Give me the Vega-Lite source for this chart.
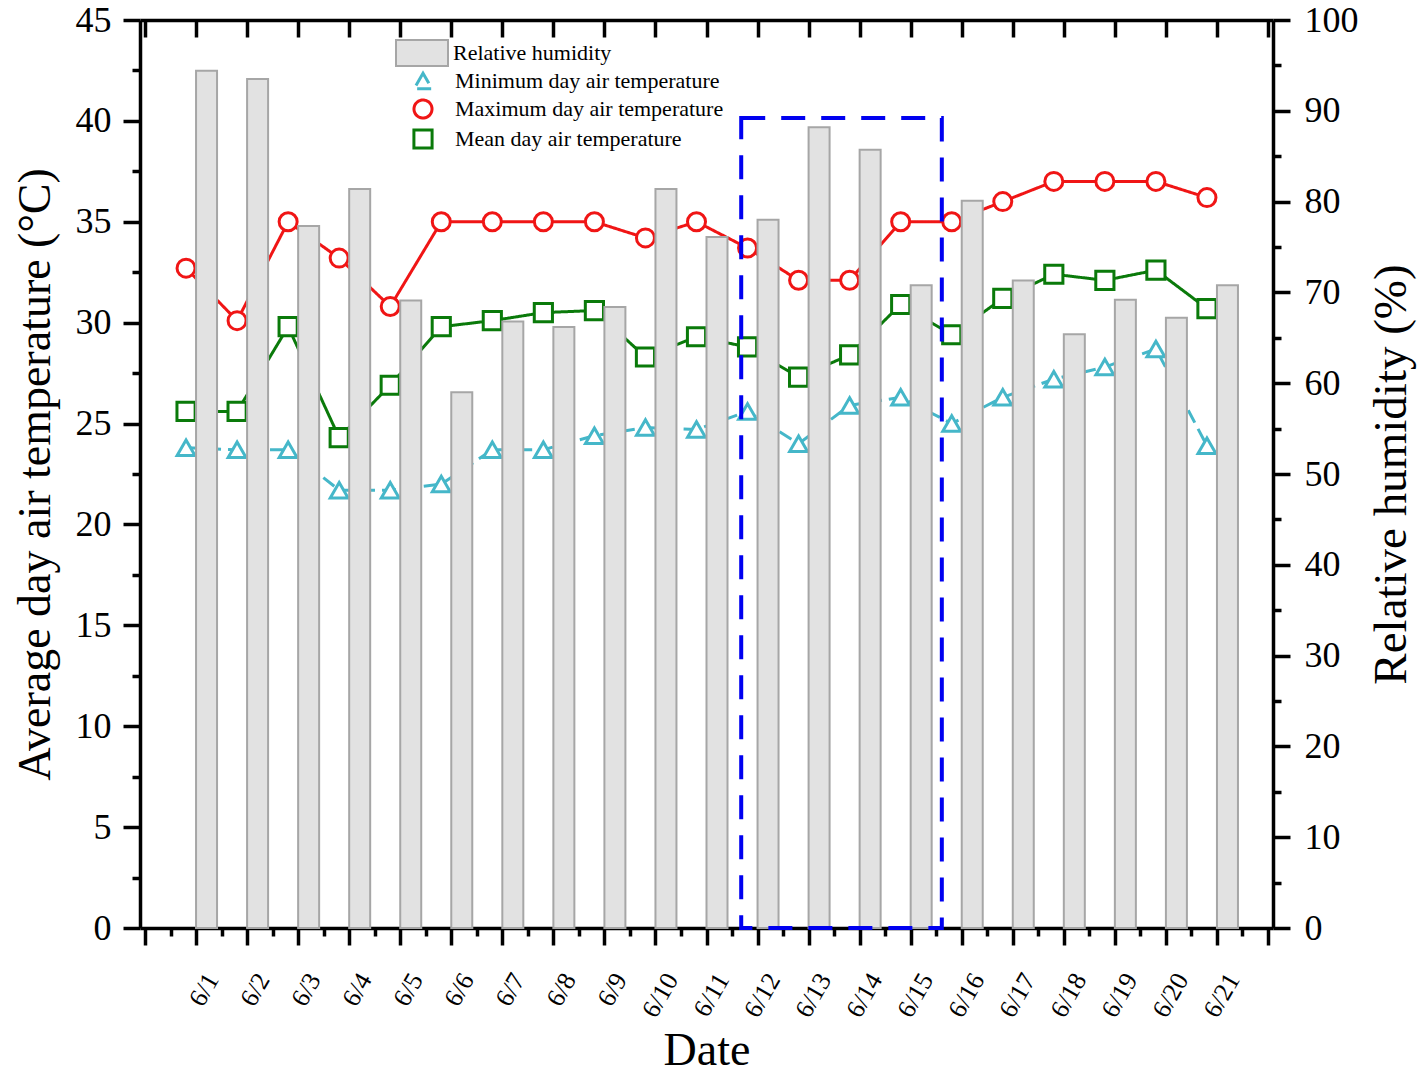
{
  "$schema": "https://vega.github.io/schema/vega-lite/v6.json",
  "width": 1133,
  "height": 908,
  "autosize": {"type": "none"},
  "padding": {"left": 140, "top": 20, "right": 144, "bottom": 148},
  "background": "white",
  "config": {
    "view": {"stroke": null},
    "font": "Liberation Serif",
    "axis": {
      "grid": false,
      "domainColor": "black",
      "domainWidth": 3.5,
      "tickColor": "black",
      "tickWidth": 3.5,
      "labelFont": "Liberation Serif",
      "labelColor": "black",
      "titleFont": "Liberation Serif",
      "titleColor": "black",
      "titleFontWeight": "normal"
    },
    "legend": {
      "labelFont": "Liberation Serif",
      "labelColor": "black",
      "labelFontSize": 22,
      "labelLimit": 500,
      "padding": 0,
      "offset": 0
    }
  },
  "datasets": {
    "bars": [
      {"day": 1, "rh": 94.4}, {"day": 2, "rh": 93.5}, {"day": 3, "rh": 77.3},
      {"day": 4, "rh": 81.4}, {"day": 5, "rh": 69.1}, {"day": 6, "rh": 59.0},
      {"day": 7, "rh": 66.8}, {"day": 8, "rh": 66.2}, {"day": 9, "rh": 68.4},
      {"day": 10, "rh": 81.4}, {"day": 11, "rh": 76.1}, {"day": 12, "rh": 78.0},
      {"day": 13, "rh": 88.2}, {"day": 14, "rh": 85.7}, {"day": 15, "rh": 70.8},
      {"day": 16, "rh": 80.1}, {"day": 17, "rh": 71.3}, {"day": 18, "rh": 65.4},
      {"day": 19, "rh": 69.2}, {"day": 20, "rh": 67.2}, {"day": 21, "rh": 70.8}
    ],
    "temps": [
      {"day": 1, "series": "Minimum day air temperature", "temp": 23.8},
      {"day": 2, "series": "Minimum day air temperature", "temp": 23.7},
      {"day": 3, "series": "Minimum day air temperature", "temp": 23.7},
      {"day": 4, "series": "Minimum day air temperature", "temp": 21.7},
      {"day": 5, "series": "Minimum day air temperature", "temp": 21.7},
      {"day": 6, "series": "Minimum day air temperature", "temp": 22.0},
      {"day": 7, "series": "Minimum day air temperature", "temp": 23.7},
      {"day": 8, "series": "Minimum day air temperature", "temp": 23.7},
      {"day": 9, "series": "Minimum day air temperature", "temp": 24.4},
      {"day": 10, "series": "Minimum day air temperature", "temp": 24.8},
      {"day": 11, "series": "Minimum day air temperature", "temp": 24.7},
      {"day": 12, "series": "Minimum day air temperature", "temp": 25.6},
      {"day": 13, "series": "Minimum day air temperature", "temp": 24.0},
      {"day": 14, "series": "Minimum day air temperature", "temp": 25.9},
      {"day": 15, "series": "Minimum day air temperature", "temp": 26.3},
      {"day": 16, "series": "Minimum day air temperature", "temp": 25.0},
      {"day": 17, "series": "Minimum day air temperature", "temp": 26.3},
      {"day": 18, "series": "Minimum day air temperature", "temp": 27.2},
      {"day": 19, "series": "Minimum day air temperature", "temp": 27.8},
      {"day": 20, "series": "Minimum day air temperature", "temp": 28.7},
      {"day": 21, "series": "Minimum day air temperature", "temp": 23.9},
      {"day": 1, "series": "Maximum day air temperature", "temp": 32.7},
      {"day": 2, "series": "Maximum day air temperature", "temp": 30.1},
      {"day": 3, "series": "Maximum day air temperature", "temp": 35.0},
      {"day": 4, "series": "Maximum day air temperature", "temp": 33.2},
      {"day": 5, "series": "Maximum day air temperature", "temp": 30.8},
      {"day": 6, "series": "Maximum day air temperature", "temp": 35.0},
      {"day": 7, "series": "Maximum day air temperature", "temp": 35.0},
      {"day": 8, "series": "Maximum day air temperature", "temp": 35.0},
      {"day": 9, "series": "Maximum day air temperature", "temp": 35.0},
      {"day": 10, "series": "Maximum day air temperature", "temp": 34.2},
      {"day": 11, "series": "Maximum day air temperature", "temp": 35.0},
      {"day": 12, "series": "Maximum day air temperature", "temp": 33.7},
      {"day": 13, "series": "Maximum day air temperature", "temp": 32.1},
      {"day": 14, "series": "Maximum day air temperature", "temp": 32.1},
      {"day": 15, "series": "Maximum day air temperature", "temp": 35.0},
      {"day": 16, "series": "Maximum day air temperature", "temp": 35.0},
      {"day": 17, "series": "Maximum day air temperature", "temp": 36.0},
      {"day": 18, "series": "Maximum day air temperature", "temp": 37.0},
      {"day": 19, "series": "Maximum day air temperature", "temp": 37.0},
      {"day": 20, "series": "Maximum day air temperature", "temp": 37.0},
      {"day": 21, "series": "Maximum day air temperature", "temp": 36.2},
      {"day": 1, "series": "Mean day air temperature", "temp": 25.6},
      {"day": 2, "series": "Mean day air temperature", "temp": 25.6},
      {"day": 3, "series": "Mean day air temperature", "temp": 29.8},
      {"day": 4, "series": "Mean day air temperature", "temp": 24.3},
      {"day": 5, "series": "Mean day air temperature", "temp": 26.9},
      {"day": 6, "series": "Mean day air temperature", "temp": 29.8},
      {"day": 7, "series": "Mean day air temperature", "temp": 30.1},
      {"day": 8, "series": "Mean day air temperature", "temp": 30.5},
      {"day": 9, "series": "Mean day air temperature", "temp": 30.6},
      {"day": 10, "series": "Mean day air temperature", "temp": 28.3},
      {"day": 11, "series": "Mean day air temperature", "temp": 29.3},
      {"day": 12, "series": "Mean day air temperature", "temp": 28.8},
      {"day": 13, "series": "Mean day air temperature", "temp": 27.3},
      {"day": 14, "series": "Mean day air temperature", "temp": 28.4},
      {"day": 15, "series": "Mean day air temperature", "temp": 30.9},
      {"day": 16, "series": "Mean day air temperature", "temp": 29.4},
      {"day": 17, "series": "Mean day air temperature", "temp": 31.2},
      {"day": 18, "series": "Mean day air temperature", "temp": 32.4},
      {"day": 19, "series": "Mean day air temperature", "temp": 32.1},
      {"day": 20, "series": "Mean day air temperature", "temp": 32.6},
      {"day": 21, "series": "Mean day air temperature", "temp": 30.7}
    ],
    "box": [
      {"start": 11.68, "end": 15.61, "low": 0, "high": 40.14}
    ]
  },
  "layer": [
    {
      "data": {"name": "temps"},
      "layer": [
        {
          "mark": {"type": "line", "strokeWidth": 3, "xOffset": -10},
          "encoding": {
            "x": {
              "field": "day", "type": "quantitative",
              "scale": {"domain": [0, 22], "nice": false, "zero": false},
              "axis": {
                "orient": "top",
                "values": [0,0.5,1,1.5,2,2.5,3,3.5,4,4.5,5,5.5,6,6.5,7,7.5,8,8.5,9,9.5,10,10.5,11,11.5,12,12.5,13,13.5,14,14.5,15,15.5,16,16.5,17,17.5,18,18.5,19,19.5,20,20.5,21,21.5,22],
                "labels": false,
                "title": null,
                "tickSize": {"condition": {"test": "datum.value % 1 === 0", "value": -17}, "value": -8}
              }
            },
            "y": {
              "field": "temp", "type": "quantitative",
              "scale": {"domain": [0, 45], "nice": false, "zero": true},
              "axis": {
                "orient": "left",
                "values": [0,2.5,5,7.5,10,12.5,15,17.5,20,22.5,25,27.5,30,32.5,35,37.5,40,42.5,45],
                "labelExpr": "datum.value % 5 === 0 ? datum.label : ''",
                "tickSize": {"condition": {"test": "datum.value % 5 === 0", "value": 17}, "value": 8},
                "labelFontSize": 36,
                "labelPadding": 12,
                "title": "Average day air temperature (°C)",
                "titleFontSize": 46,
                "titlePadding": 16
              }
            },
            "stroke": {
              "field": "series", "type": "nominal",
              "scale": {
                "domain": ["Minimum day air temperature", "Maximum day air temperature", "Mean day air temperature"],
                "range": ["#45B7C9", "#F01515", "#0A7A0A"]
              },
              "legend": {
                "title": null,
                "orient": "none",
                "legendX": 272,
                "legendY": 50,
                "labelOffset": 21,
                "rowPadding": -2,
                "symbolFillColor": "white",
                "symbolStrokeWidth": 3
              }
            },
            "strokeDash": {
              "field": "series", "type": "nominal",
              "scale": {
                "domain": ["Minimum day air temperature", "Maximum day air temperature", "Mean day air temperature"],
                "range": [[14, 7], [1, 0], [1, 0]]
              }
            }
          }
        },
        {
          "mark": {"type": "point", "filled": true, "fill": "white", "strokeWidth": 3, "opacity": 1, "xOffset": -10},
          "encoding": {
            "x": {"field": "day", "type": "quantitative", "scale": {"domain": [0, 22], "nice": false, "zero": false}},
            "y": {"field": "temp", "type": "quantitative", "title": "Average day air temperature (°C)"},
            "stroke": {
              "field": "series", "type": "nominal",
              "scale": {
                "domain": ["Minimum day air temperature", "Maximum day air temperature", "Mean day air temperature"],
                "range": ["#45B7C9", "#F01515", "#0A7A0A"]
              }
            },
            "shape": {
              "field": "series", "type": "nominal",
              "scale": {
                "domain": ["Minimum day air temperature", "Maximum day air temperature", "Mean day air temperature"],
                "range": ["triangle-up", "circle", "square"]
              }
            },
            "size": {
              "field": "series", "type": "nominal",
              "scale": {
                "domain": ["Minimum day air temperature", "Maximum day air temperature", "Mean day air temperature"],
                "range": [320, 330, 200]
              }
            }
          }
        }
      ]
    },
    {
      "data": {"name": "bars"},
      "mark": {"type": "bar", "width": 21, "xOffset": 10.5, "stroke": "#A6A6A6", "strokeWidth": 2},
      "encoding": {
        "x": {
          "field": "day", "type": "quantitative",
          "scale": {"domain": [0, 22], "nice": false, "zero": false},
          "axis": {
            "orient": "bottom",
            "values": [0,0.5,1,1.5,2,2.5,3,3.5,4,4.5,5,5.5,6,6.5,7,7.5,8,8.5,9,9.5,10,10.5,11,11.5,12,12.5,13,13.5,14,14.5,15,15.5,16,16.5,17,17.5,18,18.5,19,19.5,20,20.5,21,21.5,22],
            "labelExpr": "datum.value >= 1 && datum.value <= 21 && datum.value % 1 === 0 ? '6/' + datum.value : ''",
            "tickSize": {"condition": {"test": "datum.value % 1 === 0", "value": 17}, "value": 8},
            "labelAngle": -60,
            "labelAlign": "right",
            "labelBaseline": "middle",
            "labelFontSize": 26,
            "labelOffset": 16,
            "labelPadding": 30,
            "labelOverlap": false,
            "labelBound": false,
            "title": "Date",
            "titleFontSize": 46,
            "titlePadding": 7
          }
        },
        "y": {
          "field": "rh", "type": "quantitative",
          "scale": {"domain": [0, 100], "nice": false},
          "axis": {
            "orient": "right",
            "values": [0,5,10,15,20,25,30,35,40,45,50,55,60,65,70,75,80,85,90,95,100],
            "labelExpr": "datum.value % 10 === 0 ? datum.label : ''",
            "tickSize": {"condition": {"test": "datum.value % 10 === 0", "value": 17}, "value": 8},
            "labelFontSize": 36,
            "labelPadding": 14,
            "title": "Relative humidity (%)",
            "titleAngle": -90,
            "titleBaseline": "top",
            "titleFontSize": 47,
            "titlePadding": 10
          }
        },
        "fill": {
          "datum": "Relative humidity",
          "type": "nominal",
          "scale": {"domain": ["Relative humidity"], "range": ["#E2E2E2"]},
          "legend": {
            "title": null,
            "orient": "none",
            "legendX": 268,
            "legendY": 19,
            "labelOffset": 17,
            "symbolType": "M-2,-1H2V1H-2Z",
            "symbolSize": 676,
            "symbolStrokeColor": "#A6A6A6",
            "symbolStrokeWidth": 2
          }
        }
      }
    },
    {
      "data": {"name": "box"},
      "mark": {"type": "rect", "fill": "transparent", "stroke": "#0000F0", "strokeWidth": 4, "strokeDash": [24, 16]},
      "encoding": {
        "x": {"field": "start", "type": "quantitative", "scale": {"domain": [0, 22], "nice": false, "zero": false}, "axis": null},
        "x2": {"field": "end"},
        "y": {"field": "low", "type": "quantitative", "scale": {"domain": [0, 45], "nice": false}, "axis": null},
        "y2": {"field": "high"}
      }
    }
  ],
  "resolve": {
    "scale": {"y": "independent"},
    "axis": {"x": "independent", "y": "independent"}
  }
}
